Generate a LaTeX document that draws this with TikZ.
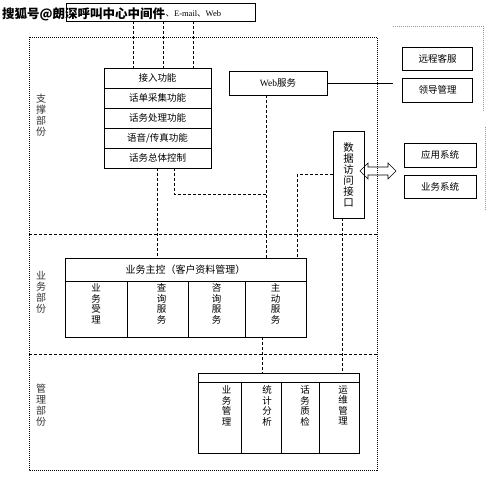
\documentclass[tikz,border=0pt]{standalone}
\usepackage{fontspec}
\setmainfont{Liberation Serif}
\newfontfamily\cjk{Noto Sans CJK SC}
\usetikzlibrary{positioning}
\begin{document}
\begin{tikzpicture}[x=1pt,y=-1pt,
  box/.style={draw, line width=0.6pt, inner sep=0pt, font=\cjk\fontsize{9.5}{11}\selectfont},
  vt/.style={inner sep=0pt, align=center, font=\cjk\fontsize{9.5}{10.5}\selectfont},
  sect/.style={inner sep=0pt, align=center, font=\cjk\fontsize{10}{11}\selectfont, text=black!80},
  dline/.style={draw, line width=0.6pt, dash pattern=on 3pt off 2pt},
  frame/.style={draw, line width=0.7pt, dash pattern=on 1pt off 1pt},
  sep/.style={draw, line width=0.6pt, dash pattern=on 3pt off 2pt},
  faint/.style={draw, black!40, line width=0.6pt, dash pattern=on 1pt off 1pt}]
\useasboundingbox (0,0) rectangle (499,477);

% top box with watermark text
\node[box, minimum width=189, minimum height=18] (topbox) at (160.5,12) {};
\node[anchor=west, inner sep=0pt, font=\cjk\bfseries\fontsize{12.5}{13}\selectfont] (wm) at (2,14) {搜狐号@朗深呼叫中心中间件};
\node[anchor=west, inner sep=0pt, font=\fontsize{8.5}{10}\selectfont] (tail) at (wm.east) {{\cjk 、}E-mail{\cjk 、}Web};

% outer frame and separators
\draw[frame] (29,37) rectangle (377,470);
\coordinate (sl1) at (29,234); \coordinate (sr1) at (377,234);
\coordinate (sl2) at (29,354); \coordinate (sr2) at (377,354);
\draw[sep] (sl1) -- (sr1);
\draw[sep] (sl2) -- (sr2);

% section labels
\node[sect] (s1) at (41,115) {支\\撑\\部\\份};
\node[sect] (s2) at (41,292) {业\\务\\部\\份};
\node[sect] (s3) at (41,405) {管\\理\\部\\份};

% support stack
\node[box, minimum width=107, minimum height=20] (r1) at (157.5,78) {接入功能};
\node[box, minimum width=107, minimum height=20] (r2) at (157.5,98) {话单采集功能};
\node[box, minimum width=107, minimum height=20] (r3) at (157.5,118) {话务处理功能};
\node[box, minimum width=107, minimum height=20] (r4) at (157.5,138) {语音/传真功能};
\node[box, minimum width=107, minimum height=20] (r5) at (157.5,158) {话务总体控制};
\draw[line width=1pt] (r1.south west) -- (r1.south east);
\draw[line width=1pt] (r2.south west) -- (r2.south east);

% web service
\node[box, minimum width=98, minimum height=24] (web) at (278,83) {{\rmfamily Web}服务};

% data access interface
\node[box, minimum width=31, minimum height=87, align=center, font=\cjk\fontsize{10.5}{11}\selectfont] (dai) at (348.5,174.5) {数\\据\\访\\问\\接\\口};

% right side boxes
\node[box, minimum width=70, minimum height=23] (yc) at (437.5,58.5) {远程客服};
\node[box, minimum width=70, minimum height=24] (ld) at (437.5,90) {领导管理};
\node[box, minimum width=72, minimum height=24] (yy) at (440,155) {应用系统};
\node[box, minimum width=72, minimum height=23] (yw) at (440,186.5) {业务系统};
\coordinate (g1a) at (393,26); \coordinate (g1b) at (483,26); \coordinate (g1c) at (483,111);
\draw[faint] (g1a) -- (g1b) -- (g1c);
\coordinate (g2a) at (485,127); \coordinate (g2b) at (485,210);
\draw[faint] (g2a) -- (g2b);

% double arrow
\draw[line width=0.6pt] (360,171) -- (368,163) -- (368,167) -- (388,167) -- (388,163) -- (396,171)
  -- (388,179) -- (388,175) -- (368,175) -- (368,179) -- cycle;

% business control
\node[box, minimum width=241, minimum height=23, font=\cjk\fontsize{10}{11}\selectfont] (ctrl) at (185.5,269.5) {业务主控（客户资料管理）};
\node[box, minimum width=62, minimum height=56] (b1) at (96,309) {};
\node[box, minimum width=61, minimum height=56] (b2) at (157.5,309) {};
\node[box, minimum width=57, minimum height=56] (b3) at (216.5,309) {};
\node[box, minimum width=61, minimum height=56] (b4) at (275.5,309) {};
\draw[line width=1pt] (ctrl.south west) -- (ctrl.south east);
\node[vt, below=3pt of b1.north] (t1) {业\\务\\受\\理};
\node[vt, below=3pt of b2.north, xshift=4pt] (t2) {查\\询\\服\\务};
\node[vt, below=3pt of b3.north] (t3) {咨\\询\\服\\务};
\node[vt, below=3pt of b4.north] (t4) {主\\动\\服\\务};

% management
\node[box, minimum width=161, minimum height=9] (mg) at (278.5,377.5) {};
\node[box, minimum width=43, minimum height=71] (m1) at (219.5,417.5) {};
\node[box, minimum width=40, minimum height=71] (m2) at (261,417.5) {};
\node[box, minimum width=38, minimum height=71] (m3) at (300,417.5) {};
\node[box, minimum width=40, minimum height=71] (m4) at (339,417.5) {};
\draw[line width=1pt] (mg.south west) -- (mg.south east);
\draw[line width=1pt] (m1.north east) -- (m1.south east);
\node[vt, below=4pt of m1.north, xshift=7pt] (u1) {业\\务\\管\\理};
\node[vt, below=4pt of m2.north, xshift=6pt] (u2) {统\\计\\分\\析};
\node[vt, below=4pt of m3.north, xshift=5pt] (u3) {话\\务\\质\\检};
\node[vt, below=4pt of m4.north, xshift=4pt] (u4) {运\\维\\管\\理};

% connector helper coordinates
\coordinate (x133) at (133,0);
\coordinate (x163) at (163,0);
\coordinate (x193) at (193,0);
\coordinate (x157) at (157,0);
\coordinate (x174) at (174,0);
\coordinate (x266) at (266,0);
\coordinate (x297) at (297,0);
\coordinate (x342) at (342,0);
\coordinate (x262) at (262,0);
\coordinate (y194) at (0,194);
\coordinate (wend) at (393,83);

% connectors
\draw[dline] (x133 |- topbox.south) -- (x133 |- r1.north);
\draw[dline] (x163 |- topbox.south) -- (x163 |- r1.north);
\draw[dline] (x193 |- topbox.south) -- (x193 |- r1.north);
\draw[dline] (x157 |- r5.south) -- (x157 |- ctrl.north);
\draw[dline] (x174 |- r5.south) -- (x174 |- y194) -- (x266 |- y194);
\draw[dline] (x266 |- web.south) -- (x266 |- ctrl.north);
\draw[dline] (dai.west) -- (x297 |- dai.west) -- (x297 |- ctrl.north);
\draw[dline] (x342 |- dai.south) -- (x342 |- mg.north);
\draw[dline] (x262 |- b4.south) -- (x262 |- mg.north);
\draw[line width=0.6pt] (web.east) -- (wend);
\end{tikzpicture}
\end{document}
